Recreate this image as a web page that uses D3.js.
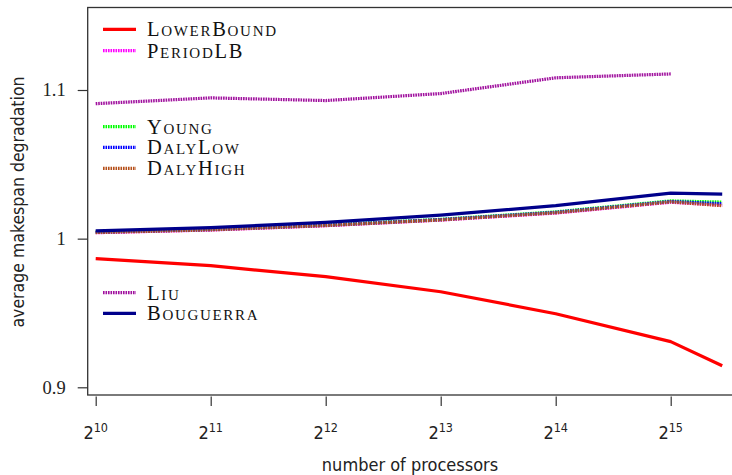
<!DOCTYPE html>
<html>
<head>
<meta charset="utf-8">
<script src="https://cdn.jsdelivr.net/npm/d3@7"></script>
<style>
  html, body { margin: 0; padding: 0; background: #fff; }
  svg { display: block; }
</style>
</head>
<body>
<svg id="chart" width="732" height="475"></svg>
<script>
// Number of processors (x) and average makespan degradation per strategy
const processors = [1024, 2048, 4096, 8192, 16384, 32768, 44700];
const lowerBound = [0.9866, 0.9818, 0.9744, 0.9643, 0.9495, 0.9307, 0.9145];
const periodLB   = [1.0040, 1.0058, 1.0087, 1.0125, 1.0172, 1.0245, 1.0225];
const young      = [1.0045, 1.0063, 1.0092, 1.0130, 1.0180, 1.0254, 1.0246];
const dalyLow    = [1.0043, 1.0061, 1.0090, 1.0128, 1.0177, 1.0250, 1.0235];
const dalyHigh   = [1.0041, 1.0059, 1.0088, 1.0126, 1.0174, 1.0247, 1.0222];
const liu        = [1.0908, 1.0947, 1.0929, 1.0976, 1.1082, 1.1108];
const bouguerra  = [1.0052, 1.0074, 1.0110, 1.0158, 1.0222, 1.0306, 1.0300];

const xTickExponents = [10, 11, 12, 13, 14, 15];
const yTicks = [0.9, 1.0, 1.1];
const yTickLabels = ["0.9", "1", "1.1"];

const SERIF = '"Liberation Serif", "DejaVu Serif", serif';
const SANS = '"DejaVu Sans Condensed", "Liberation Sans Narrow", "DejaVu Sans", sans-serif';

const svg = d3.select("#chart");

// plot frame
const frame = { left: 87.7, top: 7.5, right: 745, bottom: 395 };

const x = d3.scaleLog().base(2).domain([1024, 32768]).range([95.7, 670.7]);
const y = d3.scaleLinear().domain([0.9, 1.1]).range([387.3, 90]);

svg.append("defs").append("clipPath").attr("id", "plotClip")
  .append("rect")
  .attr("x", frame.left).attr("y", frame.top)
  .attr("width", frame.right - frame.left).attr("height", frame.bottom - frame.top);

// series definitions (draw order)
const DOT = "1.6,0.9";
const series = [
  { name: "LowerBound", values: lowerBound, color: "#ff0000", dash: null },
  { name: "PeriodLB",   values: periodLB,   color: "#ff00ff", dash: DOT },
  { name: "Young",      values: young,      color: "#00ff00", dash: DOT },
  { name: "DalyLow",    values: dalyLow,    color: "#0000ff", dash: DOT },
  { name: "DalyHigh",   values: dalyHigh,   color: "#b5501a", dash: DOT },
  { name: "Liu",        values: liu,        color: "#a0109e", dash: DOT },
  { name: "Bouguerra",  values: bouguerra,  color: "#00008b", dash: null }
];

const line = d3.line()
  .x(d => x(d.p))
  .y(d => y(d.v));

const plot = svg.append("g").attr("clip-path", "url(#plotClip)");
series.forEach(s => {
  const pts = s.values.map((v, i) => ({ p: processors[i], v }));
  plot.append("path")
    .datum(pts)
    .attr("d", line)
    .attr("fill", "none")
    .attr("stroke", s.color)
    .attr("stroke-width", 3.2)
    .attr("stroke-dasharray", s.dash)
    .attr("stroke-linejoin", "round");
});

// frame box
svg.append("rect")
  .attr("x", frame.left).attr("y", frame.top)
  .attr("width", frame.right - frame.left).attr("height", frame.bottom - frame.top)
  .attr("fill", "none").attr("stroke", "#333").attr("stroke-width", 1.3);

// y axis
const yAxis = d3.axisLeft(y)
  .tickValues(yTicks)
  .tickFormat((d, i) => yTickLabels[i])
  .tickSize(10)
  .tickPadding(12);
const gy = svg.append("g").attr("transform", `translate(${frame.left},0)`).call(yAxis);
gy.attr("font-family", null);
gy.select(".domain").remove();
gy.selectAll(".tick line").attr("stroke", "#333").attr("stroke-width", 1.2);
gy.selectAll(".tick text")
  .style("font-family", SERIF)
  .style("font-size", "18.5px")
  .attr("fill", "#222");

// x axis (ticks below the frame, with power-of-two labels)
const xTickValues = xTickExponents.map(e => Math.pow(2, e));
const xAxis = d3.axisBottom(x)
  .tickValues(xTickValues)
  .tickFormat("")
  .tickSize(9.5);
const gx = svg.append("g").attr("transform", `translate(0,${frame.bottom + 1.5})`).call(xAxis);
gx.select(".domain").remove();
gx.selectAll(".tick line").attr("stroke", "#333").attr("stroke-width", 1.2);

const xLabels = svg.append("g").style("font-family", SANS).attr("fill", "#222");
xTickExponents.forEach(e => {
  const t = xLabels.append("text")
    .attr("x", x(Math.pow(2, e)))
    .attr("y", 439)
    .attr("text-anchor", "middle")
    .style("font-size", "18px");
  t.append("tspan").text("2");
  t.append("tspan").style("font-size", "12.5px").attr("dy", -7.5).text(String(e));
});

// axis titles
svg.append("text")
  .style("font-family", SANS)
  .attr("x", 410).attr("y", 471)
  .attr("text-anchor", "middle")
  .style("font-size", "18px")
  .attr("fill", "#222")
  .text("number of processors");

svg.append("text")
  .style("font-family", SANS)
  .attr("transform", "translate(24,202) rotate(-90)")
  .attr("text-anchor", "middle")
  .style("font-size", "17.5px")
  .attr("fill", "#222")
  .text("average makespan degradation");

// legends, in three groups; names set in small capitals
const legendRows = [
  { name: "LowerBound", y: 29.3 },
  { name: "PeriodLB",   y: 50.7 },
  { name: "Young",      y: 126.7 },
  { name: "DalyLow",    y: 147.3 },
  { name: "DalyHigh",   y: 168.3 },
  { name: "Liu",        y: 292.7 },
  { name: "Bouguerra",  y: 313.3 }
];

function smallCaps(textSel, str, capSize, smallSize) {
  // group consecutive characters by case so each run becomes one tspan
  const runs = [];
  for (const ch of str) {
    const upper = ch === ch.toUpperCase();
    if (runs.length && runs[runs.length - 1].upper === upper) runs[runs.length - 1].s += ch;
    else runs.push({ upper, s: ch });
  }
  runs.forEach(r => {
    textSel.append("tspan")
      .style("font-size", (r.upper ? capSize : smallSize) + "px")
      .text(r.upper ? r.s : r.s.toUpperCase());
  });
}

const legend = svg.append("g");
legendRows.forEach(r => {
  const s = series.find(d => d.name === r.name);
  legend.append("line")
    .attr("x1", 103).attr("x2", 136)
    .attr("y1", r.y).attr("y2", r.y)
    .attr("stroke", s.color)
    .attr("stroke-width", 3.2)
    .attr("stroke-dasharray", s.dash);
  const t = legend.append("text")
    .style("font-family", SERIF)
    .style("letter-spacing", "1.7px")
    .attr("x", 147).attr("y", r.y + 7)
    .attr("fill", "#111");
  smallCaps(t, r.name, 20.5, 15);
});
</script>
</body>
</html>
